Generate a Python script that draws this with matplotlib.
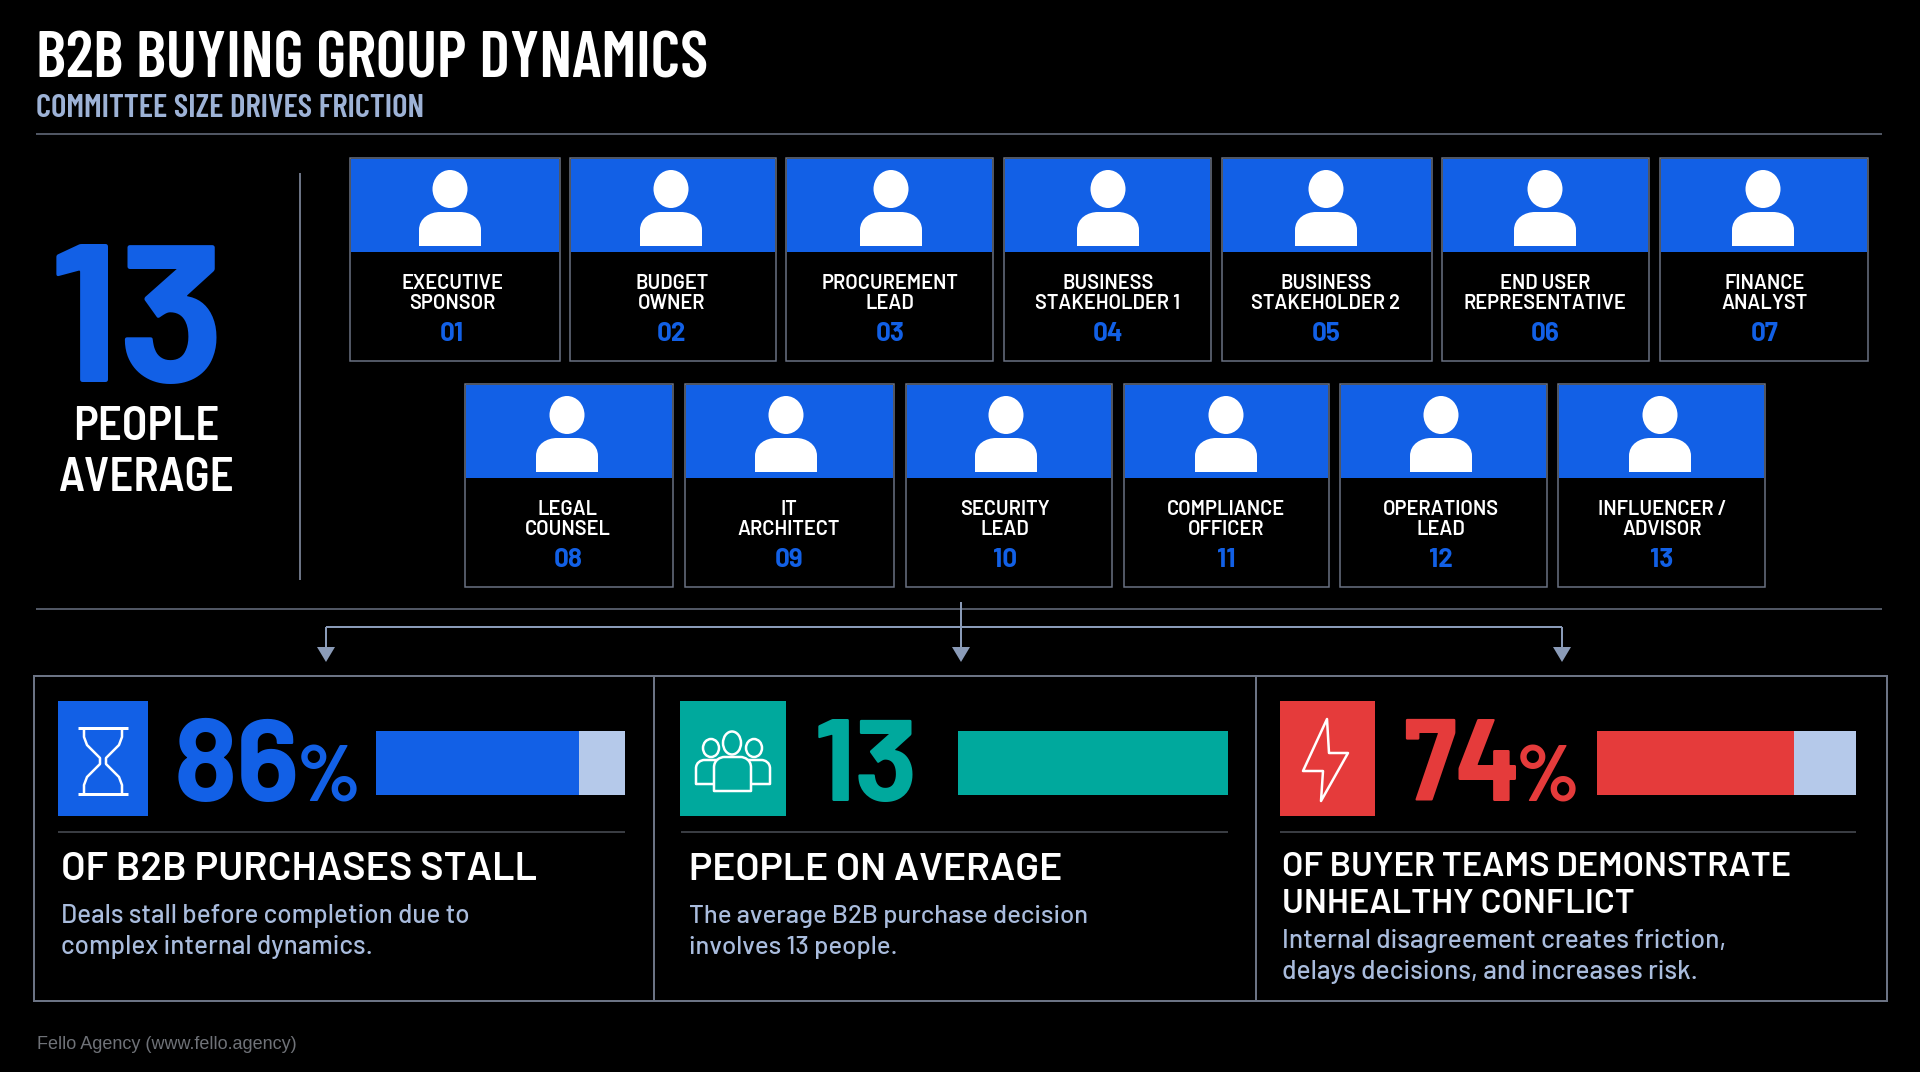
import matplotlib
matplotlib.use('Agg')
import matplotlib.pyplot as plt
from matplotlib.patches import Rectangle, Ellipse, PathPatch, Polygon
from matplotlib.path import Path

title = 'B2B BUYING GROUP DYNAMICS'
subtitle = 'COMMITTEE SIZE DRIVES FRICTION'
role_row1 = ['EXECUTIVE\nSPONSOR', 'BUDGET\nOWNER', 'PROCUREMENT\nLEAD', 'BUSINESS\nSTAKEHOLDER 1',
             'BUSINESS\nSTAKEHOLDER 2', 'END USER\nREPRESENTATIVE', 'FINANCE\nANALYST']
role_row2 = ['LEGAL\nCOUNSEL', 'IT\nARCHITECT', 'SECURITY\nLEAD', 'COMPLIANCE\nOFFICER',
             'OPERATIONS\nLEAD', 'INFLUENCER /\nADVISOR']
num_row1 = ['01', '02', '03', '04', '05', '06', '07']
num_row2 = ['08', '09', '10', '11', '12', '13']
stat_values = ['86', '13', '74']
stat_units = ['%', '', '%']
bar_share = [0.815, 1.0, 0.76]
headings = ['OF B2B PURCHASES STALL', 'PEOPLE ON AVERAGE', 'OF BUYER TEAMS DEMONSTRATE\nUNHEALTHY CONFLICT']
bodies = ['Deals stall before completion due to\ncomplex internal dynamics.',
          'The average B2B purchase decision\ninvolves 13 people.',
          'Internal disagreement creates friction,\ndelays decisions, and increases risk.']
footer = 'Fello Agency (www.fello.agency)'

# layout in pixels of the 1920x1072 picture
row1_x = [(349.5, 560), (570, 776), (786, 993), (1004, 1211), (1222, 1432), (1442, 1649), (1660, 1868)]
row2_x = [(465, 673), (684.5, 894), (906, 1112), (1124, 1329), (1340, 1547), (1558, 1765)]
row1_head = [450, 671, 891, 1108, 1326, 1545, 1763]
row2_head = [567, 786, 1006, 1226, 1441, 1660]
row1_text = [452, 672, 890, 1108, 1326, 1545, 1765]
row2_text = [568, 789, 1005, 1226, 1441, 1662]

BLUE = '#1260E6'
TEAL = '#00A99D'
RED = '#E53B3B'
LIGHT = '#B5C9EA'
SUB = '#9DB2D6'
BODY = '#A9BCDD'
EDGE = '#6B7384'
DIM = '#4D5159'
ARROW = '#8A9BB8'
COND = ['Barlow Condensed', 'Roboto']
SEMI = ['Barlow Semi Condensed', 'Roboto']
BASE = ['Barlow', 'Roboto']

fig = plt.figure(figsize=(19.2, 10.72), dpi=100, facecolor='black')
ax = fig.add_axes([0, 0, 1, 1])
ax.set_xlim(0, 1920)
ax.set_ylim(1072, 0)
ax.axis('off')


def px(size):
    return size * 0.72


def line(xs, ys, color=EDGE, lw=1.5, **kw):
    ax.plot(xs, ys, color=color, lw=px(lw), solid_capstyle='butt', **kw)


# header
ax.text(36, 77, title, color='white', family=COND, weight='semibold', fontsize=px(64.5), va='baseline')
ax.text(36, 117, subtitle, color=SUB, family=COND, weight='semibold', fontsize=px(33), va='baseline')
line([36, 1882], [134, 134])

# left stat
line([300, 300], [173, 580], lw=2)
ax.text(137, 382, '13', color=BLUE, family=BASE, weight='bold', fontsize=px(198), ha='center', va='baseline')
ax.text(146, 440, 'PEOPLE', color='white', family=SEMI, weight='semibold', fontsize=px(47), ha='center', va='baseline')
ax.text(146, 491, 'AVERAGE', color='white', family=SEMI, weight='semibold', fontsize=px(47), ha='center', va='baseline')


def draw_cards(spans, heads, centres, labels, numbers, top):
    for (x0, x1), hx, cx, label, num in zip(spans, heads, centres, labels, numbers):
        ax.add_patch(Rectangle((x0, top), x1 - x0, 203, fc='black', ec=EDGE, lw=px(1.5)))
        ax.add_patch(Rectangle((x0 + 1, top + 1), x1 - x0 - 2, 92.5, fc=BLUE, ec='none'))
        ax.add_patch(Ellipse((hx, top + 31), 35, 38, fc='white', ec='none'))
        y0, y1 = top + 54, top + 88
        body = Path([(hx - 31, y1), (hx - 31, y0 + 18), (hx - 31, y0 + 6), (hx - 20, y0), (hx - 10, y0),
                     (hx + 10, y0), (hx + 20, y0), (hx + 31, y0 + 6), (hx + 31, y0 + 18), (hx + 31, y1), (hx - 31, y1)],
                    [Path.MOVETO, Path.LINETO, Path.CURVE4, Path.CURVE4, Path.CURVE4, Path.LINETO,
                     Path.CURVE4, Path.CURVE4, Path.CURVE4, Path.LINETO, Path.CLOSEPOLY])
        ax.add_patch(PathPatch(body, fc='white', ec='none'))
        first, second = label.split('\n')
        ax.text(cx, top + 131, first, color='white', family=BASE, weight='semibold', fontsize=px(20), ha='center', va='baseline')
        ax.text(cx, top + 151, second, color='white', family=BASE, weight='semibold', fontsize=px(20), ha='center', va='baseline')
        ax.text(cx, top + 183, num, color=BLUE, family=BASE, weight='bold', fontsize=px(26), ha='center', va='baseline')


draw_cards(row1_x, row1_head, row1_text, role_row1, num_row1, 158)
draw_cards(row2_x, row2_head, row2_text, role_row2, num_row2, 384)

# connector
line([36, 1882], [608.5, 608.5])
line([326, 1562], [627, 627], color=ARROW, lw=2)
for ax_x, y_start in zip([326, 961, 1562], [627, 602, 627]):
    line([ax_x, ax_x], [y_start, 650], color=ARROW, lw=2)
    ax.add_patch(Polygon([(ax_x - 9, 647), (ax_x + 9, 647), (ax_x, 662)], fc=ARROW, ec='none'))

# bottom panels
ax.add_patch(Rectangle((34, 676), 1852.5, 325, fc='none', ec=EDGE, lw=px(2)))
line([654, 654], [676, 1001], lw=2)
line([1255.5, 1255.5], [676, 1001], lw=2)

panel_colors = [BLUE, TEAL, RED]
icon_spans = [(58, 148), (680, 786), (1280, 1375)]
value_x = [174, 814, 1403]
value_font = [BASE, BASE, SEMI]
unit_x = [297, 0, 1516]
bar_spans = [(376, 625), (957.5, 1228), (1597, 1856)]
rule_spans = [(58, 625), (681, 1228), (1280, 1856)]
text_x = [61, 689, 1282]
head_size = [39.5, 39, 34.5]
body_size = [26, 25.7, 26.3]

for i in range(3):
    col = panel_colors[i]
    ax.add_patch(Rectangle((icon_spans[i][0], 701), icon_spans[i][1] - icon_spans[i][0], 115, fc=col, ec='none'))
    ax.text(value_x[i], 801, stat_values[i], color=col, family=value_font[i], weight='bold', fontsize=px(117), va='baseline')
    if stat_units[i]:
        ax.text(unit_x[i], 801, stat_units[i], color=col, family=SEMI, weight='bold', fontsize=px(80), va='baseline')
    b0, b1 = bar_spans[i]
    ax.barh(763, (b1 - b0) * bar_share[i], left=b0, height=64, color=col, linewidth=0)
    if bar_share[i] < 1:
        ax.barh(763, (b1 - b0) * (1 - bar_share[i]), left=b0 + (b1 - b0) * bar_share[i], height=64, color=LIGHT, linewidth=0)
    line(rule_spans[i], [832, 832], color=DIM, lw=1.5)

for i in range(3):
    lines = headings[i].split('\n')
    if len(lines) == 1:
        ax.text(text_x[i], 880, lines[0], color='white', family=BASE, weight='semibold', fontsize=px(head_size[i]), va='baseline')
        body_y = [923, 954]
    else:
        ax.text(text_x[i], 876, lines[0], color='white', family=BASE, weight='semibold', fontsize=px(head_size[i]), va='baseline')
        ax.text(text_x[i], 913, lines[1], color='white', family=BASE, weight='semibold', fontsize=px(head_size[i]), va='baseline')
        body_y = [948, 979]
    for txt, y in zip(bodies[i].split('\n'), body_y):
        ax.text(text_x[i], y, txt, color=BODY, family=BASE, weight='medium', fontsize=px(body_size[i]), va='baseline')

# hourglass icon
hg = [(84, 728), (84, 737), (87, 745), (100, 758), (100, 764), (87, 777), (84, 785), (84, 794)]
line([78, 128], [728, 728], color='white', lw=3)
line([78, 128], [794, 794], color='white', lw=3)
line([p[0] for p in hg], [p[1] for p in hg], color='white', lw=2.5)
line([206 - p[0] for p in hg], [p[1] for p in hg], color='white', lw=2.5)


# group icon
def outline_person(hx, hy, hw, hh, x0, x1, y0, y1):
    r = (x1 - x0) * 0.28
    path = Path([(x0, y1), (x0, y0 + r), (x0, y0 + r * 0.3), (x0 + r * 0.6, y0), (x0 + r, y0), (x1 - r, y0),
                 (x1 - r * 0.6, y0), (x1, y0 + r * 0.3), (x1, y0 + r), (x1, y1), (x0, y1)],
                [Path.MOVETO, Path.LINETO, Path.CURVE4, Path.CURVE4, Path.CURVE4, Path.LINETO,
                 Path.CURVE4, Path.CURVE4, Path.CURVE4, Path.LINETO, Path.CLOSEPOLY])
    ax.add_patch(PathPatch(path, fc=TEAL, ec='white', lw=px(2.5), joinstyle='round'))
    ax.add_patch(Ellipse((hx, hy), hw, hh, fc=TEAL, ec='white', lw=px(2.5)))


outline_person(711, 748, 16, 18, 696, 726, 760, 784)
outline_person(754, 748, 16, 18, 740, 770, 760, 784)
outline_person(732, 743, 18, 23, 714, 751, 757, 791)

# bolt icon
ax.add_patch(Polygon([(1327, 719), (1303, 771), (1323, 771), (1321, 801), (1348, 753), (1329, 753)],
                     closed=True, fc='none', ec='white', lw=px(2.5), joinstyle='round'))

ax.text(37, 1049, footer, color='#6F7278', family='Liberation Sans', fontsize=px(18), va='baseline')

fig.savefig('out.png', dpi=100, facecolor='black')
